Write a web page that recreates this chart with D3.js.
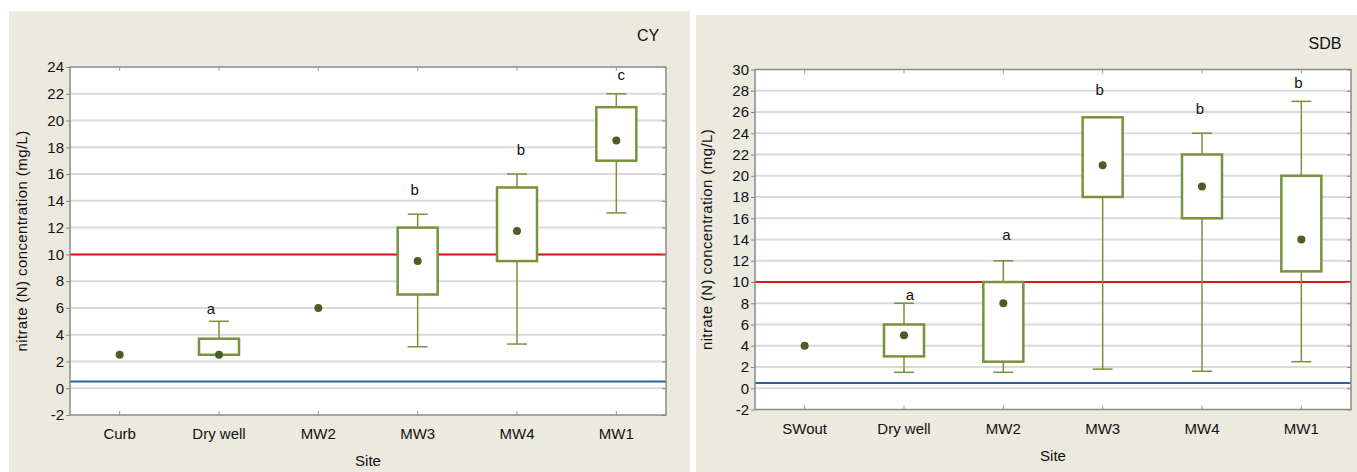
<!DOCTYPE html>
<html>
<head>
<meta charset="utf-8">
<script src="https://cdn.jsdelivr.net/npm/d3@7"></script>
<style>
  body { margin: 0; background: #fff; }
  svg text { font-family: "Liberation Sans", Arial, sans-serif; fill: #111; }
</style>
</head>
<body>
<svg id="chart" width="1357" height="472"></svg>
<script>
// CY panel
const cySites = ['Curb', 'Dry well', 'MW2', 'MW3', 'MW4', 'MW1'];
const cyMean = [2.5, 2.5, 6, 9.5, 11.75, 18.5];
const cyQ1 = [null, 2.5, null, 7, 9.5, 17];
const cyQ3 = [null, 3.7, null, 12, 15, 21];
const cyMin = [null, 2.5, null, 3.1, 3.3, 13.1];
const cyMax = [null, 5, null, 13, 16, 22];
const cyLetters = ['', 'a', '', 'b', 'b', 'c'];
const cyLetterY = [null, 5.9, null, 14.8, 17.8, 23.4];
const cyTicks = [-2, 0, 2, 4, 6, 8, 10, 12, 14, 16, 18, 20, 22, 24];

// SDB panel
const sdbSites = ['SWout', 'Dry well', 'MW2', 'MW3', 'MW4', 'MW1'];
const sdbMean = [4, 5, 8, 21, 19, 14];
const sdbQ1 = [null, 3, 2.5, 18, 16, 11];
const sdbQ3 = [null, 6, 10, 25.5, 22, 20];
const sdbMin = [null, 1.5, 1.5, 1.8, 1.6, 2.5];
const sdbMax = [null, 8, 12, 25.5, 24, 27];
const sdbLetters = ['', 'a', 'a', 'b', 'b', 'b'];
const sdbLetterY = [null, 8.8, 14.4, 28.1, 26.3, 28.7];
const sdbTicks = [-2, 0, 2, 4, 6, 8, 10, 12, 14, 16, 18, 20, 22, 24, 26, 28, 30];

const limitHigh = 10, limitLow = 0.5;

const svg = d3.select('#chart');

const drawPanel = (p) => {
  const g = svg.append('g');
  g.append('rect')
    .attr('x', p.bg[0]).attr('y', p.bg[1])
    .attr('width', p.bg[2]).attr('height', p.bg[3])
    .attr('fill', '#ece9df');

  const x = d3.scaleBand().domain(p.sites).range([p.left, p.right]);
  const y = d3.scaleLinear().domain([p.ticks[0], p.ticks[p.ticks.length - 1]]).range([p.bottom, p.top]);
  const cx = d => x(d) + x.bandwidth() / 2;

  g.append('rect')
    .attr('x', p.left).attr('y', p.top)
    .attr('width', p.right - p.left).attr('height', p.bottom - p.top)
    .attr('fill', '#fff');

  // gridlines
  g.selectAll('.grid')
    .data(p.ticks.slice(1, -1))
    .enter()
    .append('line')
    .attr('x1', p.left).attr('x2', p.right)
    .attr('y1', d => y(d)).attr('y2', d => y(d))
    .attr('stroke', '#dadada').attr('stroke-width', 2);

  // limit lines
  g.append('line')
    .attr('x1', p.left).attr('x2', p.right)
    .attr('y1', y(limitHigh)).attr('y2', y(limitHigh))
    .attr('stroke', '#e3121b').attr('stroke-width', 2);
  g.append('line')
    .attr('x1', p.left).attr('x2', p.right)
    .attr('y1', y(limitLow)).attr('y2', y(limitLow))
    .attr('stroke', '#2f5f9c').attr('stroke-width', 2);

  // axes
  const yAxis = d3.axisLeft(y).tickValues(p.ticks).tickSize(4).tickSizeOuter(0).tickFormat(d => String(d));
  g.append('g').attr('transform', `translate(${p.left},0)`).call(yAxis)
    .call(a => a.select('.domain').remove())
    .call(a => a.selectAll('line').attr('stroke', '#888'))
    .call(a => a.selectAll('text').attr('font-size', 15).attr('x', -6));

  const yRight = d3.axisLeft(y).tickValues(p.ticks).tickSize(4).tickFormat('');
  g.append('g').attr('transform', `translate(${p.right},0)`).call(yRight)
    .call(a => a.select('.domain').remove())
    .call(a => a.selectAll('line').attr('stroke', '#888'));

  const xAxis = d3.axisTop(x).tickSize(4).tickSizeOuter(0);
  g.append('g').attr('transform', `translate(0,${p.bottom})`).call(xAxis)
    .call(a => a.select('.domain').remove())
    .call(a => a.selectAll('text').remove())
    .call(a => a.selectAll('line').attr('stroke', '#999'));
  g.append('g').attr('transform', `translate(0,${p.top})`).call(d3.axisBottom(x).tickSize(4).tickFormat(''))
    .call(a => a.select('.domain').remove())
    .call(a => a.selectAll('line').attr('stroke', '#999'));

  g.selectAll('.xlab')
    .data(p.sites)
    .enter()
    .append('text')
    .attr('x', d => cx(d)).attr('y', p.bottom + 24)
    .attr('text-anchor', 'middle').attr('font-size', 15)
    .text(d => d);

  // frame
  g.append('rect')
    .attr('x', p.left).attr('y', p.top)
    .attr('width', p.right - p.left).attr('height', p.bottom - p.top)
    .attr('fill', 'none').attr('stroke', '#8a8a8a').attr('stroke-width', 1.5);

  // boxes
  const idx = d3.range(p.sites.length).filter(i => p.q1[i] !== null);
  const bw = 40, cw = 20;
  const stems = g.append('g').attr('stroke', '#77933c').attr('stroke-width', 1.5);
  stems.selectAll('.stem')
    .data(idx).enter().append('line')
    .attr('x1', i => cx(p.sites[i])).attr('x2', i => cx(p.sites[i]))
    .attr('y1', i => y(p.max[i])).attr('y2', i => y(p.min[i]));
  stems.selectAll('.capTop')
    .data(idx).enter().append('line')
    .attr('x1', i => cx(p.sites[i]) - cw / 2).attr('x2', i => cx(p.sites[i]) + cw / 2)
    .attr('y1', i => y(p.max[i])).attr('y2', i => y(p.max[i]));
  stems.selectAll('.capBot')
    .data(idx).enter().append('line')
    .attr('x1', i => cx(p.sites[i]) - cw / 2).attr('x2', i => cx(p.sites[i]) + cw / 2)
    .attr('y1', i => y(p.min[i])).attr('y2', i => y(p.min[i]));
  g.selectAll('.box')
    .data(idx).enter().append('rect')
    .attr('x', i => cx(p.sites[i]) - bw / 2)
    .attr('width', bw)
    .attr('y', i => y(p.q3[i]))
    .attr('height', i => y(p.q1[i]) - y(p.q3[i]))
    .attr('fill', '#fff').attr('stroke', '#77933c').attr('stroke-width', 2.5);

  // means
  g.selectAll('.mean')
    .data(p.mean).enter().append('circle')
    .attr('cx', (d, i) => cx(p.sites[i]))
    .attr('cy', d => y(d))
    .attr('r', 4)
    .attr('fill', '#4b5e26');

  // letters
  g.selectAll('.letter')
    .data(idx.filter(i => p.letters[i])).enter().append('text')
    .attr('x', i => cx(p.sites[i]) + (p.letterDx[i] || 0))
    .attr('y', i => y(p.letterY[i]) + 5)
    .attr('text-anchor', 'middle').attr('font-size', 15)
    .text(i => p.letters[i]);

  g.append('text')
    .attr('x', (p.left + p.right) / 2).attr('y', p.bottom + 51)
    .attr('text-anchor', 'middle').attr('font-size', 15)
    .text('Site');

  g.append('text')
    .attr('transform', `translate(${p.left - 43},${(p.top + p.bottom) / 2}) rotate(-90)`)
    .attr('text-anchor', 'middle').attr('font-size', 15)
    .attr('letter-spacing', 0.4)
    .text('nitrate (N) concentration (mg/L)');

  g.append('text')
    .attr('x', p.title[0]).attr('y', p.title[1])
    .attr('text-anchor', 'middle').attr('font-size', 16)
    .text(p.name);
};

drawPanel({
  name: 'CY', title: [648, 41],
  bg: [9, 11, 681, 461],
  left: 70, right: 666, top: 67, bottom: 415,
  sites: cySites, mean: cyMean, q1: cyQ1, q3: cyQ3, min: cyMin, max: cyMax,
  letters: cyLetters, letterY: cyLetterY, letterDx: [0, -8, 0, -3, 4, 5],
  ticks: cyTicks
});

drawPanel({
  name: 'SDB', title: [1325, 49],
  bg: [696, 15, 661, 457],
  left: 755, right: 1351, top: 69.5, bottom: 409.5,
  sites: sdbSites, mean: sdbMean, q1: sdbQ1, q3: sdbQ3, min: sdbMin, max: sdbMax,
  letters: sdbLetters, letterY: sdbLetterY, letterDx: [0, 6, 3, -3, -2, -3],
  ticks: sdbTicks
});
</script>
</body>
</html>
